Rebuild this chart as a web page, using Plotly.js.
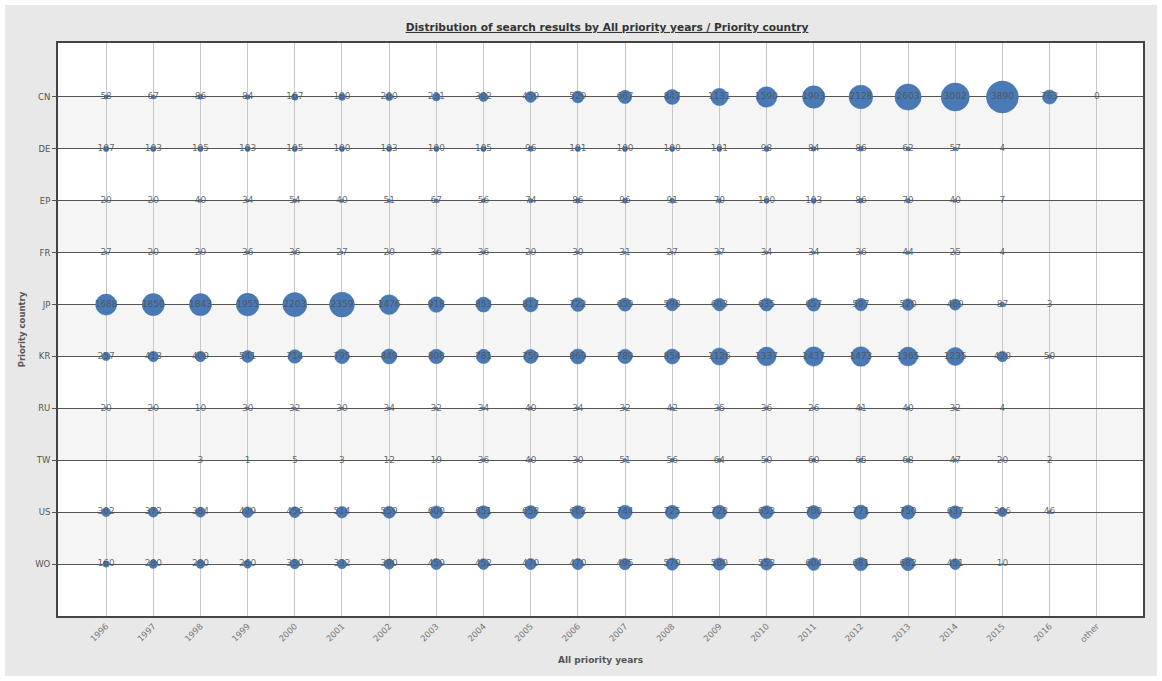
<!DOCTYPE html>
<html>
<head>
<meta charset="utf-8">
<script src="https://cdn.plot.ly/plotly-3.0.1.min.js"></script>
<style>
html,body{margin:0;padding:0;background:#ffffff;}
#chart{width:1162px;height:681px;}
</style>
</head>
<body>
<div id="chart"></div>
<script>
// ---- data ----
var countries = ['CN','DE','EP','FR','JP','KR','RU','TW','US','WO'];
var years = ['1996','1997','1998','1999','2000','2001','2002','2003','2004','2005','2006','2007','2008','2009','2010','2011','2012','2013','2014','2015','2016','other'];

var CN = [58,67,86,84,167,180,200,231,302,459,529,667,847,1131,1590,1903,2128,2603,3002,3890,763,0];
var DE = [107,103,105,103,105,100,103,100,105,96,101,100,100,101,98,84,86,62,57,4,null,null];
var EP = [20,20,40,34,54,40,51,67,56,74,86,96,91,70,100,103,86,79,40,7,null,null];
var FR = [27,20,29,36,36,27,20,36,36,29,30,31,27,37,34,34,36,44,25,4,null,null];
var JP = [1688,1850,1843,1955,2203,2359,1476,918,853,817,722,659,598,603,635,657,597,520,469,87,3,null];
var KR = [257,413,409,541,714,795,849,808,781,759,869,789,854,1126,1337,1437,1473,1365,1235,420,50,null];
var RU = [20,20,10,30,32,30,34,32,34,40,34,32,42,35,36,26,41,40,32,4,null,null];
var TW = [null,null,3,1,5,3,12,19,36,40,30,51,56,64,50,60,65,68,47,20,2,null];
var US = [302,372,384,429,456,514,559,600,651,658,662,744,725,728,653,700,771,750,637,306,46,null];
var WO = [160,280,280,260,350,332,390,459,452,470,470,495,579,580,553,604,681,682,451,10,null,null];

var rows = [CN,DE,EP,FR,JP,KR,RU,TW,US,WO];

// ---- build single bubble trace ----
var xs = [], ys = [], ss = [], ts = [];
rows.forEach(function(vals, r){
  vals.forEach(function(v, c){
    if (v === null) return;
    xs.push(years[c]); ys.push(countries[r]); ss.push(v); ts.push(String(v));
  });
});

var maxVal = Math.max.apply(null, ss);
var trace = {
  type: 'scatter',
  mode: 'markers+text',
  x: xs, y: ys, text: ts,
  textposition: 'middle center',
  textfont: {family: 'DejaVu Sans, Verdana, sans-serif', size: 9, color: 'rgba(80,80,80,0.85)'},
  marker: {
    size: ss,
    sizemode: 'area',
    sizeref: 2 * maxVal / (32*32),
    sizemin: 0,
    opacity: 1,
    color: '#4a7ab5',
    line: {color: '#3f6ca3', width: 0.5}
  },
  hoverinfo: 'x+y+text',
  cliponaxis: false
};

// outer gray panel, then white plot area, then alternating row bands
var shapes = [];
shapes.push({type:'rect', xref:'paper', yref:'paper', layer:'below',
  x0:-0.0488, x1:1.0129, y0:-0.1047, y1:1.0663,
  fillcolor:'#e8e8e8', line:{width:0}});
shapes.push({type:'rect', xref:'paper', yref:'paper', layer:'below',
  x0:0, x1:1, y0:0, y1:1,
  fillcolor:'#ffffff', line:{width:0}});
for (var i = 0; i < countries.length; i++) {
  if (i % 2 === 0) {
    shapes.push({type:'rect', xref:'x', yref:'y', layer:'below',
      x0:-1.02, x1:21.98, y0:i, y1:i+1,
      fillcolor:'#f5f5f5', line:{width:0}});
  }
}

var layout = {
  width: 1162, height: 681,
  margin: {l:58, r:19, t:43, b:65},
  paper_bgcolor: '#ffffff',
  plot_bgcolor: 'rgba(0,0,0,0)',
  font: {family: 'DejaVu Sans, Verdana, sans-serif', size: 9, color: '#555'},
  showlegend: false,
  title: {
    text: '<b><span style="text-decoration:underline">Distribution of search results by All priority years / Priority country</span></b>',
    font: {family: 'DejaVu Sans, Verdana, sans-serif', size: 10.6, color: '#333'},
    x: 0.506, xref: 'paper', xanchor: 'center',
    y: 0.960, yref: 'container', yanchor: 'middle'
  },
  xaxis: {
    type: 'category',
    categoryorder: 'array', categoryarray: years,
    range: [-1.02, 21.98],
    showgrid: true, gridcolor: '#c8c8c8', gridwidth: 1,
    showline: true, mirror: true, linecolor: '#444', linewidth: 2,
    ticks: '', tickangle: -45,
    tickfont: {family: 'DejaVu Sans, Verdana, sans-serif', size: 8.5, color: '#777'},
    zeroline: false,
    title: {text: '<b>All priority years</b>', standoff: 13,
      font: {family: 'DejaVu Sans, Verdana, sans-serif', size: 9, color: '#555'}}
  },
  yaxis: {
    type: 'category',
    categoryorder: 'array', categoryarray: countries,
    range: [10.0, -1.04],
    showgrid: true, gridcolor: '#555', gridwidth: 1,
    showline: true, mirror: true, linecolor: '#444', linewidth: 2,
    ticks: 'outside', ticklen: 4, tickcolor: '#555',
    tickfont: {family: 'DejaVu Sans, Verdana, sans-serif', size: 8.5, color: '#555'},
    zeroline: false,
    title: {text: '<b>Priority country</b>', standoff: 8,
      font: {family: 'DejaVu Sans, Verdana, sans-serif', size: 8.5, color: '#555'}}
  },
  shapes: shapes
};

Plotly.newPlot('chart', [trace], layout, {displayModeBar: false, responsive: false});
</script>
</body>
</html>
